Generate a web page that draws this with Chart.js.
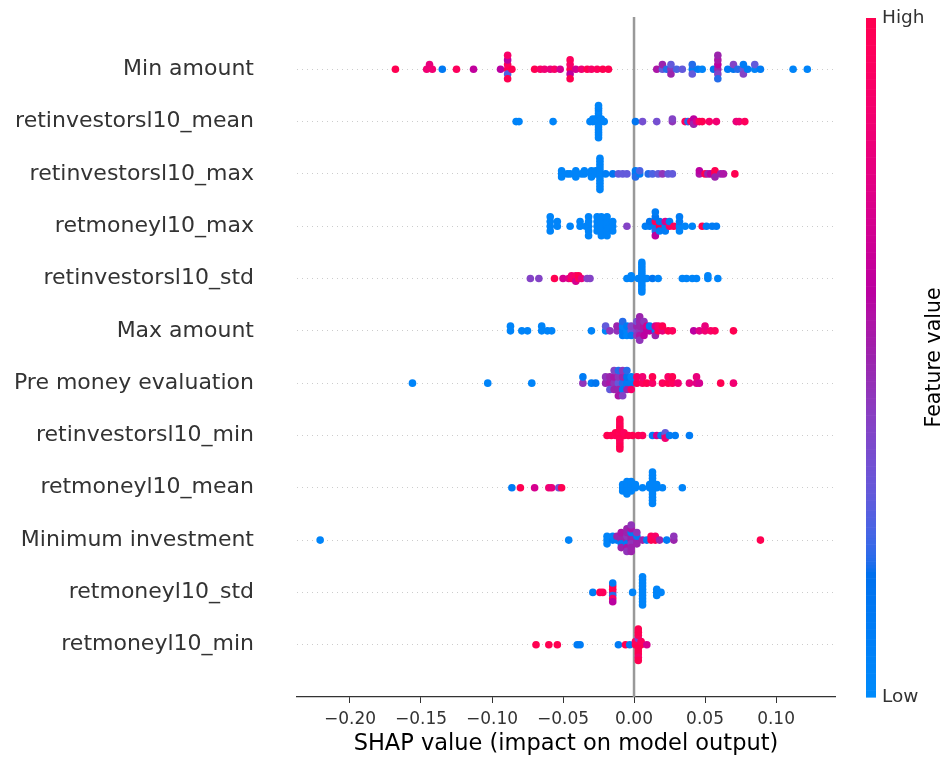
<!DOCTYPE html>
<html>
<head>
<meta charset="utf-8">
<script src="https://cdn.jsdelivr.net/npm/chart.js@4.4.0/dist/chart.umd.min.js"></script>
<style>
  html, body { margin: 0; padding: 0; background: #fff; }
</style>
</head>
<body>
<canvas id="shapChart" width="946" height="759"></canvas>
<script>
const featureNames = [
  'Min amount', 'retinvestorsl10_mean', 'retinvestorsl10_max', 'retmoneyl10_max',
  'retinvestorsl10_std', 'Max amount', 'Pre money evaluation', 'retinvestorsl10_min',
  'retmoneyl10_mean', 'Minimum investment', 'retmoneyl10_std', 'retmoneyl10_min'
];
const xTicks = [-0.20, -0.15, -0.10, -0.05, 0.00, 0.05, 0.10];

// shap values per feature and the matching (normalised) feature values, 0 = low, 1 = high
const shapMinAmount = [-0.168, -0.146, -0.144, -0.142, -0.135, -0.125, -0.113, -0.094, -0.089, -0.089, -0.089, -0.089, -0.089, -0.089, -0.086,
  -0.070, -0.066, -0.063, -0.059, -0.056, -0.052, -0.045, -0.045, -0.045, -0.045, -0.045, -0.041, -0.037, -0.033, -0.030, -0.026, -0.022, -0.018,
  0.016, 0.020, 0.020, 0.023, 0.026, 0.026, 0.026, 0.030, 0.034, 0.041, 0.041, 0.041, 0.045, 0.048, 0.056, 0.059, 0.059, 0.059, 0.059, 0.059, 0.059,
  0.066, 0.070, 0.070, 0.073, 0.077, 0.077, 0.077, 0.080, 0.085, 0.085, 0.089, 0.112, 0.122];
const featMinAmount = [1.0, 0.85, 0.8, 0.85, 0.12, 0.95, 0.62, 0.6, 1.0, 0.95, 0.25, 0.6, 1.0, 0.9, 1.0,
  1.0, 0.9, 0.85, 0.8, 0.9, 0.7, 1.0, 0.9, 0.6, 0.95, 1.0, 0.7, 0.85, 1.0, 0.9, 0.95, 1.0, 1.0,
  0.55, 0.3, 0.5, 0.2, 0.45, 0.3, 0.5, 0.25, 0.3, 0.1, 0.2, 0.3, 0.1, 0.05, 0.15, 0.5, 0.6, 0.4, 0.55, 0.2, 0.5,
  0.1, 0.15, 0.4, 0.2, 0.3, 0.1, 0.4, 0.1, 0.05, 0.3, 0.1, 0.05, 0.05];

const shapInvMean = [-0.083, -0.081, -0.057, -0.031, -0.029, -0.029, -0.027, -0.027,
  -0.025, -0.025, -0.025, -0.025, -0.025, -0.025, -0.025, -0.025, -0.025, -0.025, -0.025, -0.025, -0.025,
  -0.023, -0.023, -0.021, 0.001, 0.006, 0.016, 0.027, 0.027, 0.036, 0.038, 0.040, 0.042, 0.042, 0.042,
  0.044, 0.046, 0.048, 0.053, 0.058, 0.072, 0.074, 0.078];
const featInvMean = [0.05, 0.05, 0.05, 0.05, 0.05, 0.05, 0.05, 0.05,
  0.05, 0.03, 0.05, 0.06, 0.04, 0.05, 0.05, 0.03, 0.05, 0.06, 0.05, 0.04, 0.05,
  0.05, 0.05, 0.05, 0.15, 0.35, 0.35, 0.45, 0.4, 0.95, 0.2, 0.9, 0.55, 0.6, 0.5,
  0.7, 0.95, 1.0, 0.9, 0.85, 0.8, 0.85, 0.95];

const shapInvMax = [-0.051, -0.051, -0.051, -0.047, -0.045, -0.041, -0.041, -0.041, -0.037, -0.035, -0.035, -0.030, -0.030, -0.030, -0.027, -0.027,
  -0.024, -0.024, -0.024, -0.024, -0.024, -0.024, -0.024, -0.024, -0.024, -0.024, -0.024,
  -0.020, -0.015, -0.011, -0.008, -0.005, 0.001, 0.001, 0.001, 0.004, 0.004, 0.010, 0.013, 0.017, 0.020, 0.024, 0.027,
  0.046, 0.046, 0.050, 0.052, 0.054, 0.057, 0.057, 0.057, 0.061, 0.063, 0.071];
const featInvMax = [0.05, 0.05, 0.05, 0.05, 0.05, 0.05, 0.05, 0.05, 0.05, 0.05, 0.05, 0.05, 0.05, 0.05, 0.05, 0.05,
  0.05, 0.05, 0.05, 0.05, 0.05, 0.05, 0.05, 0.05, 0.05, 0.05, 0.05,
  0.08, 0.15, 0.3, 0.3, 0.3, 0.15, 0.1, 0.2, 0.1, 0.25, 0.2, 0.25, 0.3, 0.45, 0.3, 0.3,
  0.55, 0.6, 1.0, 0.5, 0.6, 0.95, 1.0, 0.5, 0.5, 0.55, 1.0];

const shapMoneyMax = [-0.059, -0.059, -0.059, -0.059, -0.054, -0.054, -0.045, -0.038, -0.038, -0.034,
  -0.032, -0.032, -0.032, -0.032, -0.032, -0.026, -0.026, -0.026, -0.026, -0.023, -0.023, -0.023, -0.023, -0.023,
  -0.019, -0.019, -0.019, -0.019, -0.019, -0.015, -0.015, -0.015, -0.005, 0.008, 0.011, 0.011,
  0.015, 0.015, 0.015, 0.015, 0.015, 0.015, 0.018, 0.018, 0.018, 0.022, 0.022, 0.022, 0.025, 0.025, 0.028,
  0.032, 0.032, 0.032, 0.032, 0.036, 0.041, 0.048, 0.051, 0.055, 0.058];
const featMoneyMax = [0.05, 0.05, 0.05, 0.05, 0.05, 0.05, 0.05, 0.05, 0.05, 0.05,
  0.05, 0.05, 0.05, 0.05, 0.05, 0.05, 0.05, 0.05, 0.05, 0.05, 0.05, 0.05, 0.05, 0.05,
  0.05, 0.05, 0.05, 0.05, 0.05, 0.05, 0.05, 0.05, 0.4, 0.1, 0.1, 0.15,
  0.1, 0.95, 0.2, 0.15, 0.6, 0.1, 1.0, 0.15, 0.1, 0.1, 0.7, 0.1, 0.9, 0.1, 0.95,
  0.05, 0.1, 0.05, 0.1, 0.05, 0.05, 1.0, 0.1, 0.1, 0.1];

const shapInvStd = [-0.073, -0.067, -0.056, -0.050, -0.046, -0.044, -0.044, -0.041, -0.041, -0.041, -0.039, -0.039, -0.037, -0.033, -0.031,
  -0.005, -0.002, -0.002, 0.003,
  0.0055, 0.0055, 0.0055, 0.0055, 0.0055, 0.0055, 0.0055, 0.0055, 0.0055, 0.0055, 0.0055, 0.0055,
  0.009, 0.013, 0.017, 0.034, 0.037, 0.041, 0.044, 0.052, 0.052, 0.059];
const featInvStd = [0.4, 0.4, 1.0, 0.7, 0.75, 0.95, 0.85, 1.0, 0.9, 0.7, 0.95, 1.0, 0.8, 0.4, 0.4,
  0.05, 0.05, 0.05, 0.05,
  0.05, 0.05, 0.05, 0.05, 0.05, 0.05, 0.05, 0.05, 0.05, 0.05, 0.05, 0.05,
  0.05, 0.15, 0.05, 0.05, 0.05, 0.05, 0.05, 0.05, 0.05, 0.05];

const shapMaxAmount = [-0.087, -0.087, -0.079, -0.075, -0.065, -0.065, -0.061, -0.058, -0.030, -0.020, -0.020, -0.017, -0.012, -0.012,
  -0.008, -0.008, -0.008, -0.008, -0.005, -0.005, -0.005, -0.002, -0.002, -0.002, 0.002, 0.002, 0.002, 0.002,
  0.004, 0.004, 0.004, 0.004, 0.004, 0.004, 0.007, 0.007, 0.007, 0.007, 0.009, 0.009, 0.011, 0.011,
  0.015, 0.015, 0.015, 0.017, 0.017, 0.020, 0.020, 0.024, 0.027, 0.042, 0.046, 0.050, 0.050, 0.054, 0.057, 0.070];
const featMaxAmount = [0.05, 0.05, 0.05, 0.05, 0.05, 0.05, 0.05, 0.05, 0.05, 0.05, 0.3, 0.45, 0.45, 0.5,
  0.1, 0.05, 0.1, 0.2, 0.05, 0.1, 0.05, 0.3, 0.4, 0.1, 0.4, 0.5, 0.45, 0.35,
  0.45, 0.5, 0.55, 0.5, 0.45, 0.5, 0.5, 0.55, 0.6, 0.45, 0.6, 0.7, 0.6, 0.1,
  0.1, 0.7, 0.5, 1.0, 0.9, 0.8, 1.0, 1.0, 0.95, 0.6, 0.75, 0.85, 0.8, 0.9, 0.95, 1.0];

const shapPreMoney = [-0.156, -0.103, -0.072, -0.036, -0.036, -0.030, -0.027, -0.020, -0.020, -0.017, -0.017, -0.017,
  -0.014, -0.014, -0.014, -0.014, -0.011, -0.011, -0.011, -0.011, -0.011, -0.008, -0.008, -0.008, -0.008, -0.008,
  -0.005, -0.005, -0.005, -0.005, -0.002, -0.002, -0.002, 0.002, 0.002, 0.006, 0.006, 0.009, 0.013, 0.013,
  0.020, 0.024, 0.024, 0.027, 0.027, 0.031, 0.039, 0.044, 0.044, 0.046, 0.061, 0.070];
const featPreMoney = [0.05, 0.05, 0.05, 0.45, 0.1, 0.1, 0.15, 0.5, 0.45, 0.55, 0.5, 0.3,
  0.45, 0.55, 0.5, 0.4, 0.3, 0.45, 0.5, 0.2, 0.55, 0.2, 0.5, 0.1, 0.45, 0.4,
  0.1, 0.15, 0.5, 0.2, 0.1, 0.05, 0.9, 1.0, 0.9, 0.95, 0.85, 1.0, 0.9, 1.0,
  0.95, 1.0, 0.9, 0.95, 1.0, 0.85, 0.8, 0.75, 0.8, 0.7, 1.0, 0.85];

const shapInvMin = [-0.019, -0.016, -0.013, -0.013,
  -0.010, -0.010, -0.010, -0.010, -0.010, -0.010, -0.010, -0.010, -0.010, -0.010, -0.010, -0.010,
  -0.007, -0.007, -0.004, -0.001, 0.003, 0.006, 0.013, 0.016, 0.019, 0.022, 0.022, 0.022, 0.025, 0.029, 0.039];
const featInvMin = [1.0, 1.0, 0.95, 1.0,
  1.0, 0.95, 1.0, 1.0, 0.97, 1.0, 0.95, 1.0, 1.0, 0.97, 1.0, 1.0,
  1.0, 0.95, 1.0, 1.0, 1.0, 0.95, 0.1, 0.7, 0.1, 1.0, 0.3, 0.85, 0.1, 0.1, 0.1];

const shapMoneyMean = [-0.086, -0.080, -0.070, -0.060, -0.058, -0.053, -0.051,
  -0.008, -0.008, -0.008, -0.005, -0.005, -0.005, -0.005, -0.005, -0.002, -0.002, -0.002, -0.002, 0.001, 0.001, 0.006, 0.011, 0.011,
  0.013, 0.013, 0.013, 0.013, 0.013, 0.013, 0.013, 0.013, 0.013, 0.013, 0.013, 0.016, 0.016, 0.020, 0.034];
const featMoneyMean = [0.1, 1.0, 0.7, 0.85, 0.8, 0.35, 1.0,
  0.05, 0.05, 0.05, 0.05, 0.05, 0.05, 0.05, 0.05, 0.05, 0.05, 0.05, 0.05, 0.05, 0.05, 0.05, 0.05, 0.05,
  0.05, 0.05, 0.05, 0.05, 0.05, 0.05, 0.05, 0.05, 0.05, 0.05, 0.05, 0.05, 0.05, 0.05, 0.05];

const shapMinInvest = [-0.221, -0.046, -0.019, -0.019, -0.019, -0.015, -0.015, -0.012, -0.012,
  -0.009, -0.009, -0.009, -0.009, -0.009, -0.005, -0.005, -0.005, -0.005, -0.005, -0.005, -0.005,
  -0.002, -0.002, -0.002, -0.002, -0.002, -0.002, -0.002, -0.002, 0.002, 0.002, 0.002, 0.002,
  0.006, 0.009, 0.012, 0.012, 0.015, 0.015, 0.018, 0.023, 0.028, 0.028, 0.089];
const featMinInvest = [0.05, 0.05, 0.05, 0.05, 0.05, 0.1, 0.05, 0.1, 0.5,
  0.5, 0.5, 0.1, 0.55, 0.5, 0.5, 0.45, 0.1, 0.5, 0.55, 0.5, 0.45,
  0.5, 0.5, 0.45, 0.1, 0.5, 0.55, 0.5, 0.45, 0.5, 0.1, 0.5, 0.45,
  0.5, 0.1, 1.0, 0.95, 1.0, 0.9, 0.5, 0.1, 0.5, 0.45, 1.0];

const shapMoneyStd = [-0.029, -0.024, -0.022, -0.015, -0.015, -0.015, -0.015, -0.015, -0.015, -0.015, -0.001,
  0.006, 0.006, 0.006, 0.006, 0.006, 0.006, 0.006, 0.006, 0.006, 0.006, 0.016, 0.016, 0.016, 0.019];
const featMoneyStd = [0.1, 1.0, 0.95, 0.5, 1.0, 0.2, 1.0, 0.9, 0.1, 0.6, 0.05,
  0.05, 0.05, 0.05, 0.05, 0.05, 0.05, 0.05, 0.05, 0.05, 0.05, 0.05, 0.05, 0.05, 0.05];

const shapMoneyMin = [-0.069, -0.060, -0.054, -0.040, -0.038, -0.011, -0.006, -0.003, 0.001, 0.001,
  0.003, 0.003, 0.003, 0.003, 0.003, 0.003, 0.003, 0.003, 0.003, 0.003, 0.003, 0.005, 0.005, 0.009];
const featMoneyMin = [1.0, 1.0, 1.0, 0.1, 0.1, 0.1, 1.0, 0.1, 1.0, 0.95,
  1.0, 0.95, 1.0, 0.4, 1.0, 0.95, 1.0, 1.0, 0.9, 1.0, 1.0, 1.0, 0.95, 0.7];

const shapRows = [shapMinAmount, shapInvMean, shapInvMax, shapMoneyMax, shapInvStd, shapMaxAmount,
  shapPreMoney, shapInvMin, shapMoneyMean, shapMinInvest, shapMoneyStd, shapMoneyMin];
const featRows = [featMinAmount, featInvMean, featInvMax, featMoneyMax, featInvStd, featMaxAmount,
  featPreMoney, featInvMin, featMoneyMean, featMinInvest, featMoneyStd, featMoneyMin];

// shap's red_blue colormap: straight line through Lch space, then Lab -> sRGB
function shapColor(t) {
  const L = t < 0.5 ? 54 - 28 * t : 40 + 28 * (t - 0.5);
  const C = 70 + 20 * t;
  const h = 4.6588 + t * (0.35470565 + 2 * Math.PI - 4.6588);
  const a = C * Math.cos(h), b = C * Math.sin(h);
  const fy = (L + 16) / 116, fx = fy + a / 500, fz = fy - b / 200;
  const finv = v => v > 6 / 29 ? v * v * v : 3 * (6 / 29) * (6 / 29) * (v - 4 / 29);
  const X = 0.95047 * finv(fx), Y = finv(fy), Z = 1.08883 * finv(fz);
  const lin = [
    3.2406 * X - 1.5372 * Y - 0.4986 * Z,
    -0.9689 * X + 1.8758 * Y + 0.0415 * Z,
    0.0557 * X - 0.2040 * Y + 1.0570 * Z
  ];
  const rgb = lin.map(v => {
    const g = v <= 0.0031308 ? 12.92 * v : 1.055 * Math.pow(v, 1 / 2.4) - 0.055;
    return Math.round(Math.min(1, Math.max(0, g)) * 255);
  });
  return `rgb(${rgb[0]},${rgb[1]},${rgb[2]})`;
}

// beeswarm stacking like shap.summary_plot (100 bins per row, alternate up/down)
function swarmOffsets(values) {
  const nbins = 100, rowHeight = 0.4;
  const lo = Math.min(...values), hi = Math.max(...values);
  const quant = values.map(v => Math.round(nbins * (v - lo) / (hi - lo + 1e-8)));
  const order = values.map((_, i) => i).sort((a, b) => quant[a] - quant[b] || a - b);
  const ys = new Array(values.length).fill(0);
  let layer = 0, lastBin = -1;
  order.forEach(i => {
    if (quant[i] !== lastBin) layer = 0;
    ys[i] = Math.ceil(layer / 2) * ((layer % 2) * 2 - 1);
    layer++;
    lastBin = quant[i];
  });
  const m = Math.max(...ys) + 1;
  return ys.map(y => y * 0.9 * (rowHeight / m));
}

const points = [];
const pointColors = [];
shapRows.forEach((vals, row) => {
  const offs = swarmOffsets(vals);
  vals.forEach((v, i) => {
    points.push({ x: v, y: row - offs[i] });
    pointColors.push(shapColor(featRows[row][i]));
  });
});

const FONT = 'DejaVu Sans';

const shapDecor = {
  id: 'shapDecor',
  beforeDatasetsDraw(chart) {
    const { ctx, chartArea, scales } = chart;
    const x0 = scales.x.getPixelForValue(0);
    ctx.save();
    ctx.strokeStyle = '#999999';
    ctx.lineWidth = 2.5;
    ctx.beginPath();
    ctx.moveTo(x0, chartArea.top);
    ctx.lineTo(x0, chartArea.bottom);
    ctx.stroke();
    ctx.restore();
  },
  afterDraw(chart) {
    const { ctx, chartArea } = chart;
    const left = chartArea.right + 31, w = 10;
    const top = chartArea.top + 1, bottom = chartArea.bottom;
    const steps = 200;
    const hStep = (bottom - top) / steps;
    ctx.save();
    for (let i = 0; i < steps; i++) {
      ctx.fillStyle = shapColor(i / (steps - 1));
      ctx.fillRect(left, bottom - (i + 1) * hStep, w, hStep + 0.6);
    }
    ctx.fillStyle = '#333333';
    ctx.font = `18.5px "${FONT}"`;
    ctx.textAlign = 'left';
    ctx.textBaseline = 'middle';
    ctx.fillText('High', left + w + 6, top);
    ctx.fillText('Low', left + w + 6, bottom);
    ctx.translate(left + w + 59, (top + bottom) / 2);
    ctx.rotate(-Math.PI / 2);
    ctx.textAlign = 'center';
    ctx.fillStyle = '#000000';
    ctx.font = `20.5px "${FONT}"`;
    ctx.fillText('Feature value', 0, 0);
    ctx.restore();
  }
};

new Chart(document.getElementById('shapChart').getContext('2d'), {
  type: 'scatter',
  data: {
    datasets: [{
      data: points,
      pointBackgroundColor: pointColors,
      pointRadius: 3.8,
      pointBorderWidth: 0,
      pointHoverRadius: 3.8
    }]
  },
  options: {
    responsive: false,
    animation: false,
    layout: { padding: { left: 0, right: 111, top: 17, bottom: 0 } },
    plugins: { legend: { display: false }, tooltip: { enabled: false } },
    scales: {
      x: {
        type: 'linear',
        min: -0.2373,
        max: 0.1415,
        afterBuildTicks: axis => { axis.ticks = xTicks.map(v => ({ value: v })); },
        afterFit: scale => { scale.height = 62; },
        grid: { drawOnChartArea: false, drawTicks: true, tickLength: 6, color: '#333333' },
        border: { display: true, color: '#333333', width: 1.2 },
        ticks: {
          color: '#333333',
          padding: 6,
          font: { family: FONT, size: 17 },
          callback: v => (v < 0 ? '\u2212' : '') + Math.abs(v).toFixed(2)
        },
        title: {
          display: true,
          text: 'SHAP value (impact on model output)',
          color: '#000000',
          font: { family: FONT, size: 22.5 },
          padding: { top: 0, bottom: 1 }
        }
      },
      y: {
        type: 'linear',
        min: -1,
        max: 12,
        reverse: true,
        afterBuildTicks: axis => { axis.ticks = featureNames.map((_, i) => ({ value: i })); },
        afterFit: scale => { scale.width = 297; },
        // tick marks kept but invisible so the labels sit well left of the plot
        grid: { drawTicks: true, tickLength: 40, tickColor: 'rgba(0,0,0,0)', color: '#cccccc', lineWidth: 1 },
        border: { display: false, dash: [1, 4] },
        ticks: {
          autoSkip: false,
          color: '#333333',
          padding: 3,
          font: { family: FONT, size: 22 },
          callback: v => featureNames[v]
        }
      }
    }
  },
  plugins: [shapDecor]
});
</script>
</body>
</html>
